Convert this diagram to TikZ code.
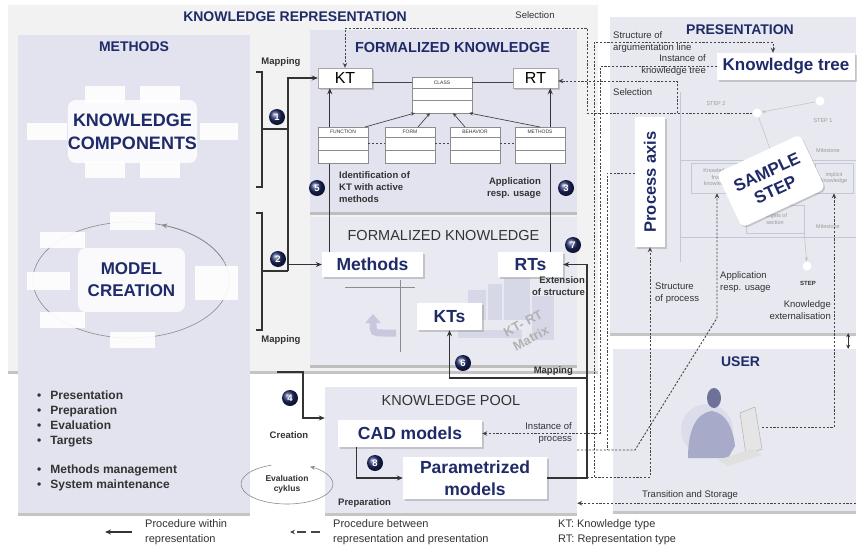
\documentclass[tikz,border=0pt]{standalone}
\usepackage{fontspec}
\setmainfont{Liberation Sans}
\usepackage{xcolor}
\usepackage{tikz}
\usetikzlibrary{arrows.meta, positioning, shadows}

\definecolor{kbnavy}{HTML}{1F2A68}
\definecolor{kbpanel}{HTML}{E2E3EE}
\definecolor{kbpale}{HTML}{F2F2F3}
\definecolor{kbpres}{HTML}{E8E9F0}
\definecolor{kbtext}{HTML}{333333}
\definecolor{kbgrey}{HTML}{454545}
\definecolor{kbfaint}{HTML}{C6C7D4}
\definecolor{kbfig}{HTML}{8285B3}

\begin{document}
\begin{tikzpicture}[x=1pt, y=-1pt,
    every node/.style={text=kbtext, font=\fontsize{9.5}{12}\selectfont},
    panel/.style={fill=kbpanel, inner sep=0pt,
      drop shadow={shadow xshift=0pt, shadow yshift=-2.5pt, fill=black!45, opacity=0.5}},
    title/.style={font=\bfseries\fontsize{14}{16}\selectfont, text=kbnavy, inner sep=0pt},
    plaintitle/.style={font=\fontsize{14.5}{16}\selectfont, inner sep=0pt},
    card/.style={fill=white, inner sep=0pt,
      drop shadow={shadow xshift=1.5pt, shadow yshift=-1.5pt, fill=black!50, opacity=0.35}},
    bigtxt/.style={font=\bfseries\fontsize{17.5}{20}\selectfont, text=kbnavy, align=center},
    blob/.style={fill=white, fill opacity=0.85, text opacity=1, rounded corners=8pt, inner sep=0pt},
    tabbox/.style={fill=white, fill opacity=0.9, inner sep=0pt},
    umlhead/.style={draw=black!45, fill=white, line width=0.4pt, minimum width=50pt, minimum height=10pt,
      inner sep=0pt, outer sep=0pt, font=\fontsize{5}{5}\selectfont},
    umlpart/.style={draw=black!45, fill=white, line width=0.4pt, minimum width=50pt, minimum height=13pt,
      inner sep=0pt, outer sep=0pt},
    lbl/.style={font=\bfseries\fontsize{9.5}{12}\selectfont, inner sep=0pt},
    note/.style={font=\fontsize{9.5}{12}\selectfont, inner sep=0pt},
    legend/.style={font=\fontsize{11}{15}\selectfont, inner sep=0pt, anchor=west, align=left},
    ghost/.style={font=\fontsize{5.5}{6.5}\selectfont, text=black!40, align=center, inner sep=0pt},
    ghostbox/.style={ghost, draw=kbfaint, fill=kbpres, line width=0.5pt},
    stepdot/.style={circle, fill=white, minimum size=9pt, inner sep=0pt},
    badge/.style={circle, ball color=kbnavy, text=white, font=\bfseries\fontsize{9.5}{10}\selectfont,
      minimum size=16pt, inner sep=0pt},
    wire/.style={draw=kbtext, line width=1.1pt},
    arr/.style={wire, -{Stealth[length=6pt, width=5pt]}},
    umlarr/.style={draw=kbgrey, line width=0.7pt, -{Stealth[length=4pt, width=3.5pt]}},
    ring/.style={draw=black!45, line width=0.6pt},
    dlink/.style={draw=kbgrey, line width=0.9pt, dash pattern=on 2.2pt off 1.6pt},
    darr/.style={dlink, -{Stealth[length=5pt, width=4.5pt]}},
    faint/.style={draw=kbfaint, line width=0.5pt},
    faintarr/.style={draw=black!25, line width=0.5pt, -{Stealth[length=4pt, width=3pt]}},
  ]
  \useasboundingbox (0,0) rectangle (862,552);
  \fill[white] (0,0) rectangle (862,552);

  % panels
  \node[panel, fill=kbpale, minimum width=590pt, minimum height=366pt] (rep) at (303,188) {};
  \node[title, below=7pt of rep.north, xshift=-8pt] (reptitle) {KNOWLEDGE REPRESENTATION};
  \node[panel, minimum width=232pt, minimum height=478pt] (methods) at (134,274) {};
  \node[title, below=7pt of methods.north] (methodstitle) {METHODS};
  \node[panel, minimum width=267pt, minimum height=182pt] (fktop) at (443.5,121) {};
  \node[title, font=\bfseries\fontsize{14.5}{16}\selectfont, below=12pt of fktop.north, xshift=9pt] (fktitle) {FORMALIZED KNOWLEDGE};
  \node[panel, fill=kbpanel!80!white, minimum width=267pt, minimum height=148pt] (fkbot) at (443.5,291) {};
  \node[plaintitle, below=13pt of fkbot.north] (fkbtitle) {FORMALIZED KNOWLEDGE};
  \node[panel, fill=kbpanel!85!white, minimum width=252pt, minimum height=126pt] (pool) at (451,450) {};
  \node[plaintitle, below=8pt of pool.north] (pooltitle) {KNOWLEDGE POOL};
  \node[panel, fill=kbpres, minimum width=246pt, minimum height=316pt] (pres) at (733,175) {};
  \node[title, below=8pt of pres.north, xshift=7pt] (prestitle) {PRESENTATION};
  \node[panel, fill=kbpres, minimum width=243pt, minimum height=162pt] (user) at (734.5,430) {};
  \node[title, below=8pt of user.north, xshift=6pt] (usertitle) {USER};

  % knowledge components
  \foreach \px/\py/\w/\h [count=\i] in {105/94/40/17, 160/94/40/17, 105/169/40/17, 160/169/40/17,
      47/131.5/40/17, 219/131.5/38/17}
    \node[tabbox, minimum width=\w pt, minimum height=\h pt] (kctab\i) at (\px,\py) {};
  \node[blob, bigtxt, font=\bfseries\fontsize{18}{23}\selectfont, minimum width=129pt, minimum height=63pt]
    (kc) at (132.5,131.5) {KNOWLEDGE\\COMPONENTS};

  % model creation cycle
  \coordinate (mcc) at (131,280);
  \draw[ring] (mcc) ellipse [x radius=98pt, y radius=58pt];
  \draw[ring, -{Stealth[length=6pt, width=5pt]}] (mcc) ++(20:98pt and 58pt)
    arc[start angle=20, end angle=72, x radius=98pt, y radius=58pt];
  \foreach \px/\py/\w/\h [count=\i] in {132.5/221/45/18, 62.5/240/45/16, 48.5/281/43/18,
      62.5/320/45/16, 132.5/340/45/16, 216.5/283/43/34}
    \node[tabbox, minimum width=\w pt, minimum height=\h pt] (mctab\i) at (\px,\py) {};
  \node[blob, bigtxt, font=\bfseries\fontsize{17}{22}\selectfont, minimum width=107pt, minimum height=64pt]
    (mc) at (131.5,280) {MODEL\\CREATION};

  \node[anchor=north west, align=left, inner sep=0pt, font=\bfseries\fontsize{12}{14.7}\selectfont]
    (tasks) at (37,391) {\textbullet\hspace{9pt}Presentation\\ \textbullet\hspace{9pt}Preparation\\
      \textbullet\hspace{9pt}Evaluation\\ \textbullet\hspace{9pt}Targets\\[15pt]
      \textbullet\hspace{9pt}Methods management\\ \textbullet\hspace{9pt}System maintenance};

  % lower formalized knowledge
  \foreach \mx/\my/\mw/\mh in {468/290/18/30, 488/284/14/36, 504/278/26/42, 532/296/22/44, 458/330/64/8}
    \fill[kbfig, opacity=0.16] (\mx,\my) rectangle ++(\mw,\mh);
  \node[font=\bfseries\fontsize{13}{17}\selectfont, text=black!30, rotate=28, align=center] (mtx) at (527,331) {KT- RT\\Matrix};
  \draw[draw=black!45, line width=0.8pt] (345,287) -- (415,287);
  \draw[draw=black!45, line width=0.8pt] (400,280) -- (400,352);
  \draw[kbfig!45, line width=7pt, -{Triangle[length=9pt, width=15pt]}] (396,333) -- (384,333)
    .. controls (373,333) .. (373,322) -- (373,314);
  \node[card, bigtxt, minimum width=101pt, minimum height=25pt] (mth) at (372.5,264.5) {Methods};
  \node[card, bigtxt, minimum width=65pt, minimum height=25pt] (rts) at (530.5,264.5) {RTs};
  \node[card, bigtxt, minimum width=65pt, minimum height=27pt] (kts) at (449.5,316.5) {KTs};

  % knowledge pool
  \node[card, bigtxt, minimum width=144pt, minimum height=27pt] (cad) at (410,433.5) {CAD models};
  \node[card, bigtxt, font=\bfseries\fontsize{17.5}{22}\selectfont, minimum width=144pt, minimum height=42pt]
    (pm) at (475,478) {Parametrized\\models};
  \coordinate (cadout) at ([xshift=19pt]cad.south west);
  \draw[arr] (cadout) |- (pm.west);
  \node[badge] (b8) at (375,463) {8};
  \node[lbl, anchor=west] (preplbl) at (338,503) {Preparation};

  % formalized knowledge, class model
  \node[card, draw=black!35, minimum width=54pt, minimum height=20pt, font=\fontsize{16}{16}\selectfont, text=black] (kt) at (345,78) {KT};
  \node[card, draw=black!35, minimum width=45pt, minimum height=20pt, font=\fontsize{16}{16}\selectfont, text=black] (rt) at (535.5,78) {RT};
  \coordinate (up5) at ([xshift=8pt]mth.north west);
  \coordinate (up3) at ([xshift=-13pt]rts.north east);
  \draw[arr] (up5) -- (up5 |- kt.south);
  \draw[arr] (up3) -- (up3 |- rt.south);
  \node[umlhead, minimum width=60pt, minimum height=11pt] (cls) at (442,82.5) {CLASS};
  \node[umlpart, minimum width=60pt, minimum height=12pt, below=0pt of cls] (cls1) {};
  \node[umlpart, minimum width=60pt, minimum height=13pt, below=0pt of cls1] (cls2) {};
  \foreach \nm/\cx/\lbl in {fn/343/FUNCTION, fm/410/FORM, bh/475/BEHAVIOR, mt/540/METHODS} {
    \node[umlhead] (\nm) at (\cx,132) {\lbl};
    \node[umlpart, below=0pt of \nm] (\nm1) {};
    \node[umlpart, below=0pt of \nm1] (\nm2) {};
  }
  \draw[draw=kbgrey, line width=0.8pt] (kt.east |- cls.west) -- (cls.west);
  \draw[draw=kbgrey, line width=0.8pt] (cls.east) -- (rt.west |- cls.east);
  \foreach \a/\b in {fn/fm, fm/bh, bh/mt}
    \draw[draw=kbgrey, line width=0.8pt, dash pattern=on 1.5pt off 2.5pt] (\a1.east) -- (\b1.west);
  \draw[umlarr] ([xshift=22pt]fn.north) -- ([xshift=-27pt]cls2.south);
  \draw[umlarr] ([xshift=8pt]fm.north) -- ([xshift=-12pt]cls2.south);
  \draw[umlarr] ([xshift=-10pt]bh.north) -- ([xshift=11pt]cls2.south);
  \draw[umlarr] (mt.north) -- ([xshift=27pt]cls2.south);
  \node[lbl, anchor=north west, align=left] (identlbl) at (339,171) {Identification of\\KT with active\\methods};
  \node[lbl, anchor=north east, align=right] (applbl) at (541,177) {Application\\resp. usage};
  \node[badge] (b5) at (317,188) {5};
  \node[badge] (b3) at (566,188) {3};

  % mapping brackets
  \draw[wire] (256,72) -- (262,72) -- (262,187) -- (256,187);
  \draw[wire] (256,213) -- (262,213) -- (262,330) -- (256,330);
  \coordinate (hub) at (288,271);
  \draw[wire] (262,129) -- (288,129);
  \draw[wire] (262,271) -- (hub);
  \draw[arr] (hub) |- (kt.west);
  \draw[arr] (mth.west -| hub) -- (mth.west);
  \node[lbl] (map1) at (281,62) {Mapping};
  \node[lbl] (map2) at (281,340) {Mapping};
  \node[badge] (b1) at (277,117) {1};
  \node[badge] (b2) at (278,259) {2};
  \coordinate (crt) at (277,372);
  \draw[arr] (crt) -| (303,418) -- (pool.west |- 0,418);
  \node[badge] (b4) at (290,398) {4};
  \node[lbl] (creatlbl) at (289,435) {Creation};
  \coordinate (evc) at (287,484);
  \draw[ring, -{Stealth[length=5pt, width=4pt]}] (evc) ++(110:46pt and 20pt)
    arc[start angle=110, end angle=420, x radius=46pt, y radius=20pt];
  \node[lbl, font=\bfseries\fontsize{8.5}{10}\selectfont, align=center] (evlbl) at (evc) {Evaluation\\cyklus};

  % mapping into KTs and RTs
  \coordinate (mapr) at (587,378);
  \draw[arr] (pm.east) -| (mapr) |- (rts.east);
  \draw[arr] (mapr) -| (kts.south);
  \node[lbl, anchor=east] (maplbl) at (573,371) {Mapping};
  \node[lbl, anchor=north east, align=right] (extlbl) at (585,276) {Extension\\of structure};
  \node[badge] (b6) at (463,363) {6};
  \node[badge] (b7) at (573,245) {7};

  % presentation: process steps
  \draw[faint] (680,92) -- (680,262);
  \draw[faint] (680,160) -- (856,160);
  \draw[faint] (680,237) -- (856,237);
  \node[ghostbox, minimum width=52pt, minimum height=30pt] (kfk) at (717,178) {Knowledge\\from\\knowledge};
  \node[ghostbox, minimum width=52pt, minimum height=30pt] (mid) at (775,178) {};
  \node[ghostbox, minimum width=38pt, minimum height=30pt] (ik) at (834,178) {implicit\\knowledge};
  \node[ghostbox, minimum width=58pt, minimum height=28pt] (tos) at (775,219) {Targets of\\section};
  \node[stepdot] (st1) at (820,101) {};
  \node[stepdot] (st2) at (757,113) {};
  \node[stepdot] (st3) at (807,266) {};
  \node[ghost] (st2lbl) at (716,104) {STEP 2};
  \node[ghost] (st1lbl) at (823,121) {STEP 1};
  \node[ghost] (ms1) at (828,151) {Milestone};
  \node[ghost] (ms2) at (828,227) {Milestone};
  \node[lbl, font=\bfseries\fontsize{6}{7}\selectfont] (st3lbl) at (808,283) {STEP};
  \draw[faintarr] (st1) -- (st2);
  \draw[faintarr] (st2) -- (mid.north);
  \draw[faintarr] (tos.south east) -- (st3);
  \node[card, bigtxt, rounded corners=6pt, minimum width=92pt, minimum height=60pt, rotate=25,
    font=\bfseries\fontsize{17}{20}\selectfont] (sample) at (771,181) {SAMPLE\\STEP};
  \node[card, bigtxt, minimum width=138pt, minimum height=27pt, font=\bfseries\fontsize{17}{20}\selectfont]
    (ktree) at (786,66.5) {Knowledge tree};
  \node[card, bigtxt, minimum width=130pt, minimum height=30pt, rotate=90, font=\bfseries\fontsize{16.5}{20}\selectfont]
    (pa) at (650,182) {Process axis};

  % user at the workstation
  \fill[kbfig!28] (707,430) circle (26pt);
  \fill[kbfig!70] (688,458) .. controls (688,430) and (696,413) .. (712,411)
    .. controls (726,413) and (733,428) .. (735,446) -- (728,458) -- cycle;
  \fill[kbfig!85!black] (714,398) ellipse (7pt and 10pt);
  \filldraw[fill=black!10, draw=black!30, line width=0.5pt] (740,413) -- (755,407) -- (762,449) -- (746,455) -- cycle;
  \fill[black!12] (718,460) -- (752,449) -- (762,455) -- (728,466) -- cycle;
  \coordinate (monitor) at (762,427);

  % links between representation and presentation
  \draw[darr] (st2) -| (587,28) -| (kt.north);
  \coordinate (selj) at (677,113);
  \draw[darr] (selj) |- ([yshift=-3pt]rt.east);
  \coordinate (jpm) at (587,477);
  \coordinate (argtop) at (773,42);
  \draw[darr] (594,477) |- (argtop) -- (argtop |- ktree.north);
  \draw[darr] (jpm) -| (pa.west);
  \draw[darr] (ktree.west) -| (600,433.5) -- (cad.east);
  \draw[darr] (pool.east) -- (635,450) -- (717,318) -- (kfk.south);
  \draw[dlink] ([yshift=9pt]pa.north) -| (607,450);
  \draw[darr] (monitor) -| (ik.south);
  \coordinate (tsr) at ([yshift=8pt]user.south east);
  \draw[darr] (tsr) -- (tsr -| pool.east);
  \draw[{Stealth[length=4pt, width=4pt]}-{Stealth[length=4pt, width=4pt]}, draw=kbtext, line width=0.8pt]
    ([xshift=-8pt]pres.south east) -- ([xshift=-8pt]user.north east);

  \node[note] (sellbl) at (535,15) {Selection};
  \node[note, anchor=west, align=left] (arglbl) at (613,42) {Structure of\\argumentation line};
  \node[note, anchor=east, align=right] (kinstlbl) at (706,65) {Instance of\\knowledge tree};
  \node[note, anchor=west] (sel2lbl) at (613,92) {Selection};
  \node[note, anchor=east, align=right] (pinstlbl) at (572,433) {Instance of\\process};
  \node[note, anchor=north west, align=left] (spl) at (655,283) {Structure\\of process};
  \node[note, anchor=north west, align=left] (aul) at (720,271) {Application\\resp. usage};
  \node[note, anchor=north east, align=right] (kel) at (831,300) {Knowledge\\externalisation};
  \node[note] (tslbl) at (690,495) {Transition and Storage};

  % legend
  \node[legend] (lgw) at (145,532) {Procedure within\\representation};
  \draw[arr] ([xshift=-13pt]lgw.west) -- ++(-27pt,0pt);
  \node[legend] (lgb) at (333,532) {Procedure between\\representation and presentation};
  \draw[darr, dash pattern=on 9pt off 5pt, line width=1.1pt] ([xshift=-13pt]lgb.west) -- ++(-30pt,0pt);
  \node[legend] (lgk) at (558,532) {KT: Knowledge type\\RT: Representation type};
\end{tikzpicture}
\end{document}
